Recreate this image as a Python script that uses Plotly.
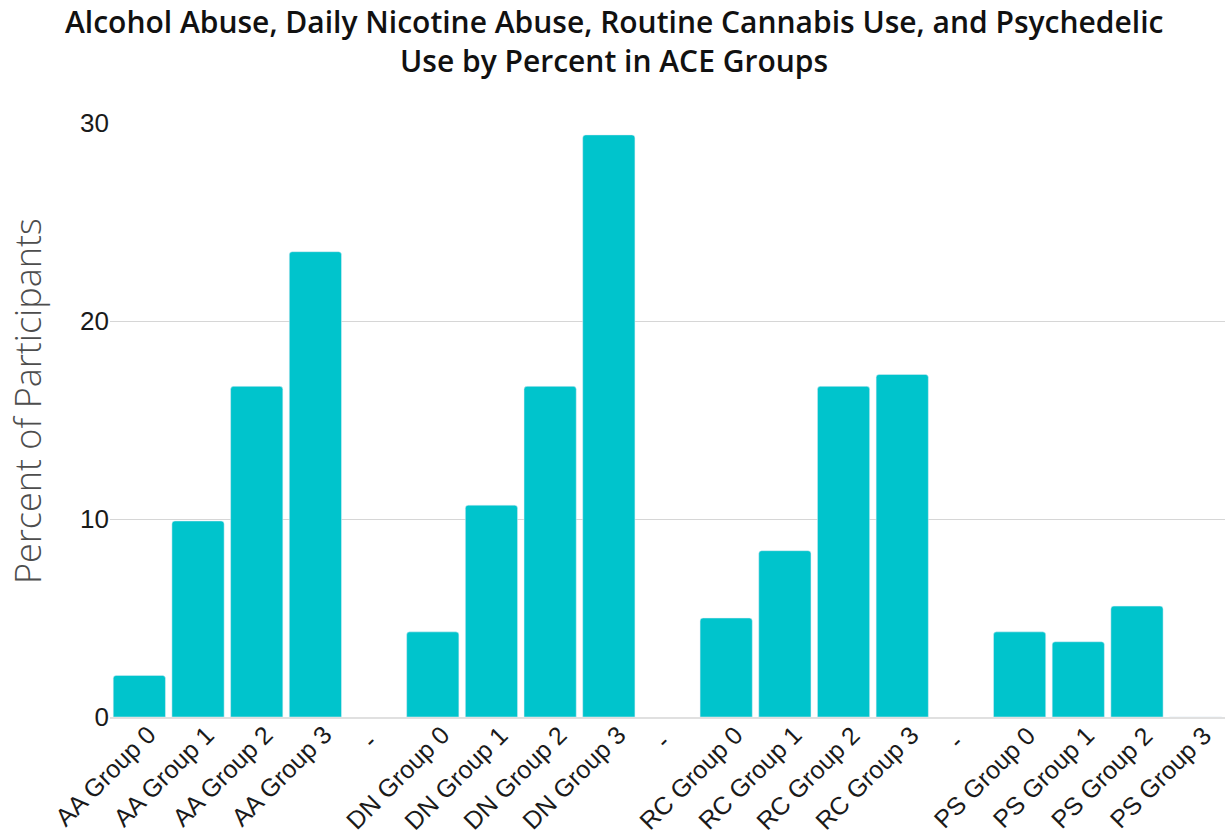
import plotly.graph_objects as go

# Category labels along the x axis ("-" entries are spacer slots between groups)
labels = [
    "AA Group 0", "AA Group 1", "AA Group 2", "AA Group 3", "-",
    "DN Group 0", "DN Group 1", "DN Group 2", "DN Group 3", "-",
    "RC Group 0", "RC Group 1", "RC Group 2", "RC Group 3", "-",
    "PS Group 0", "PS Group 1", "PS Group 2", "PS Group 3",
]

# Percent of participants per ACE group
alcohol_abuse = [2.1, 9.9, 16.7, 23.5]
daily_nicotine = [4.3, 10.7, 16.7, 29.4]
routine_cannabis = [5.0, 8.4, 16.7, 17.3]
psychedelic_use = [4.3, 3.8, 5.6, 0.0]

title_lines = [
    "Alcohol Abuse, Daily Nicotine Abuse, Routine Cannabis Use, and Psychedelic",
    "Use by Percent in ACE Groups",
]

values = (alcohol_abuse + [None] + daily_nicotine + [None]
          + routine_cannabis + [None] + psychedelic_use)
positions = list(range(len(labels)))

W, H = 1227, 838
M_L, M_R, M_T, M_B = 110, 2, 123, 121
plot_w = W - M_L - M_R
plot_h = H - M_T - M_B


def paper_x(px):
    return (px - M_L) / plot_w


def paper_y(py):
    return (H - M_B - py) / plot_h


fig = go.Figure(
    go.Bar(
        x=positions,
        y=values,
        marker=dict(color="#00C4CC", cornerradius=3),
        width=0.89,
    )
)

annotations = []
for text, py in zip(title_lines, [21, 60]):
    annotations.append(dict(
        text=text, xref="paper", yref="paper",
        x=paper_x(W / 2), y=paper_y(py),
        xanchor="center", yanchor="middle", showarrow=False,
        font=dict(family="Open Sans", size=30, color="#111111", weight=600),
    ))

# Vertical axis title
annotations.append(dict(
    text="Percent of Participants", xref="paper", yref="paper",
    x=paper_x(27), y=paper_y(401), textangle=-90,
    xanchor="center", yanchor="middle", showarrow=False,
    font=dict(family="Open Sans", size=36, color="#4d4d4d", weight=300),
))

# Slanted category labels, hung just below the baseline
for pos, text in zip(positions, labels):
    short = len(text) == 1
    annotations.append(dict(
        text=text, xref="x", yref="y", x=pos, y=0,
        xanchor="right", yanchor="top", textangle=-45, showarrow=False,
        xshift=10 if short else 24, yshift=-8 if short else -1,
        font=dict(family="Liberation Sans", size=25, color="#1a1a1a"),
    ))

fig.update_layout(
    width=W,
    height=H,
    paper_bgcolor="white",
    plot_bgcolor="white",
    margin=dict(l=M_L, r=M_R, t=M_T, b=M_B, autoexpand=False),
    showlegend=False,
    annotations=annotations,
)

fig.update_xaxes(
    range=[-0.5, len(labels) - 0.5],
    showticklabels=False,
    automargin=False,
    showgrid=False,
    showline=True,
    linecolor="#e0e0e0",
    linewidth=2,
    ticks="",
)

fig.update_yaxes(
    range=[0, 30],
    tickvals=[0, 10, 20, 30],
    automargin=False,
    showgrid=True,
    gridcolor="#d6d6d6",
    gridwidth=1,
    zeroline=False,
    ticks="",
    tickfont=dict(family="Liberation Sans", size=26, color="#1a1a1a"),
)

fig.write_html("out.html")
